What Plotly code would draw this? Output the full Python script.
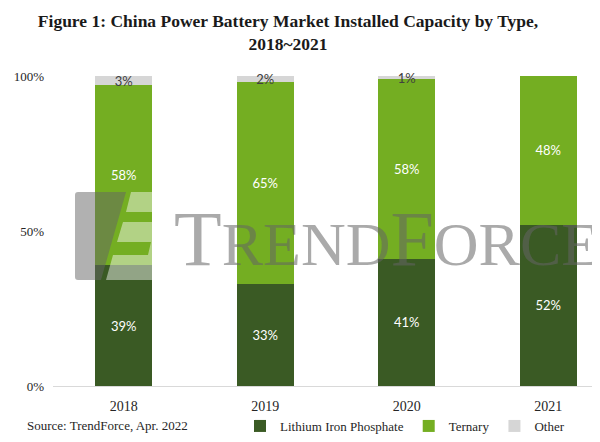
import plotly.graph_objects as go

years = ["2018", "2019", "2020", "2021"]
lfp = [39, 33, 41, 52]
ternary = [58, 65, 58, 48]
other = [3, 2, 1, 0]
series_names = ["Lithium Iron Phosphate", "Ternary", "Other"]
y_ticks = [0, 50, 100]
y_tick_labels = ["0%", "50%", "100%"]

colors = ["#3a5a24", "#74ae22", "#d6d6d6"]
label_colors = ["white", "white", "#404040"]

fig = go.Figure()
for name, vals, col, lcol in zip(series_names, [lfp, ternary, other], colors, label_colors):
    fig.add_trace(go.Bar(
        x=years, y=vals, name=name,
        marker=dict(color=col, line=dict(width=0)),
        width=0.4,
        text=[f"{v}%" if v > 0 else "" for v in vals],
        textposition="inside",
        insidetextanchor="middle",
        constraintext="none",
        textfont=dict(family="Lato", size=13, color=lcol),
        cliponaxis=False,
    ))

# page body has an 8px margin: build the figure 8px smaller and shift coordinates
OFF = 8
W, H = 600 - OFF, 442 - OFF
L, T = 53 - OFF, 76 - OFF
B = H - (386 - OFF)
pw, ph = W - L, H - T - B

def px(x):
    return (x - OFF - L) / pw

def py(y):
    return (H - B - (y - OFF)) / ph

# watermark logo (approximate)
fig.add_shape(type="path", xref="paper", yref="paper",
              path=f"M {px(78)},{py(192)} L {px(126)},{py(192)} L {px(101)},{py(280)} L {px(78)},{py(280)} Q {px(75)},{py(280)} {px(75)},{py(277)} L {px(75)},{py(195)} Q {px(75)},{py(192)} {px(78)},{py(192)} Z",
              fillcolor="rgba(100,100,100,0.5)", line=dict(width=0), layer="above")
fig.add_shape(type="path", xref="paper", yref="paper",
              path=f"M {px(131)},{py(192)} L {px(158)},{py(192)} Q {px(162)},{py(192)} {px(162)},{py(196)} L {px(162)},{py(276)} Q {px(162)},{py(280)} {px(158)},{py(280)} L {px(106)},{py(280)} L {px(113)},{py(255)} L {px(148)},{py(255)} L {px(151)},{py(242)} L {px(117)},{py(242)} L {px(123)},{py(222)} L {px(152)},{py(222)} L {px(155)},{py(212)} L {px(126)},{py(212)} Z",
              fillcolor="rgba(255,255,255,0.45)", line=dict(width=0), layer="above")

big, small = 78, 62
wm = (f"<span style='font-size:{big}px'>T</span>REND"
      f"<span style='font-size:{big}px'>F</span>ORCE")
fig.add_annotation(text=wm, xref="paper", yref="paper", x=px(172), y=py(284),
                   xanchor="left", yanchor="bottom", showarrow=False,
                   font=dict(family="Liberation Serif", size=small, color="rgba(100,100,100,0.55)"))

fig.add_annotation(text="Source: TrendForce, Apr. 2022", xref="paper", yref="paper",
                   x=px(25), y=py(426), xanchor="left", yanchor="middle", showarrow=False,
                   font=dict(family="Liberation Serif", size=13, color="#262626"))

fig.update_layout(
    width=W, height=H,
    barmode="stack",
    margin=dict(l=L, r=0, t=T, b=B),
    paper_bgcolor="white", plot_bgcolor="white",
    title=dict(text="<b>Figure 1: China Power Battery Market Installed Capacity by Type,<br>2018~2021</b>",
               x=(288 - OFF) / W, xanchor="center", xref="container",
               y=1 - 19 / H, yanchor="top", yref="container",
               font=dict(family="Liberation Serif", size=17.5, color="#1a1a1a")),
    xaxis=dict(range=[-0.5, 3.366], showline=True, linecolor="#d9d9d9", linewidth=1,
               ticks="", showgrid=False, zeroline=False,
               tickfont=dict(family="Liberation Serif", size=14, color="#262626"),
               ticklabelstandoff=7),
    yaxis=dict(range=[0, 100], tickvals=y_ticks, ticktext=y_tick_labels, showgrid=False,
               zeroline=False, showline=False, ticks="",
               tickfont=dict(family="Liberation Serif", size=13, color="#262626"),
               ticklabelstandoff=8),
    legend=dict(orientation="h", x=px(240), xanchor="left", y=py(426), yanchor="middle",
                font=dict(family="Liberation Serif", size=13, color="#262626"),
                itemwidth=30, traceorder="normal", bgcolor="rgba(0,0,0,0)"),
    showlegend=True,
)

fig.write_html("out.html")
